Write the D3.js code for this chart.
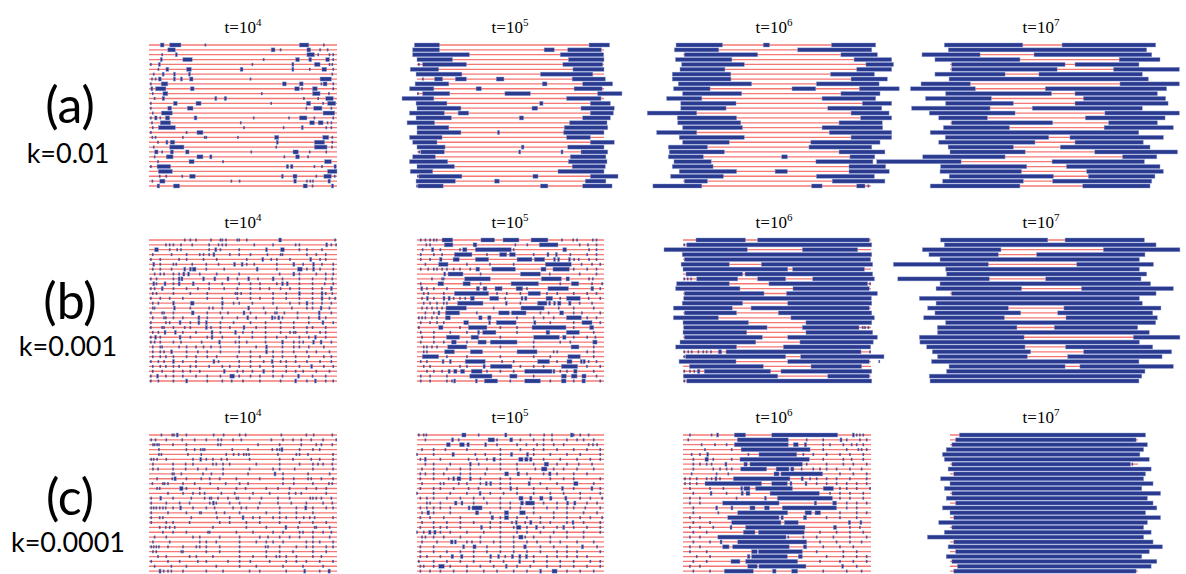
<!DOCTYPE html>
<html>
<head>
<meta charset="utf-8">
<script src="https://cdn.jsdelivr.net/npm/d3@7"></script>
<style>
  body { margin: 0; background: #fff; }
  svg { display: block; }
</style>
</head>
<body>
<div class="graph"></div>
<script>
'use strict'

// columns = time, rows = coupling k
const exponents = [4, 5, 6, 7]
const panelLabels = ['(a)', '(b)', '(c)']
const kLabels = ['k=0.01', 'k=0.001', 'k=0.0001']

// each string is one chain (one red line); "x0:x1" = blue domain, single number = tiny dot
// positions in % of the chain length
const a1 = [
  "6:8 11:17 30 80:85 93", "10:14 65:67 70 84:86 91 95", "7 14:15 84:88 90 96 98",
  "6:7 18:23 61 78:80 85:86.5 94:96 98", "1 5:6 55 76:77 88:91 96 97.5",
  "5 9:10.5 20:22.5 48.5:50 76:77 85.5 92:94.5 98", "2.5 7:8 13:14 21:22 97.5",
  "1.6 3.5 5:6.5 13:14 16.7:17.7 21.6:23.4 54 91:97", "1 6.5:10 71:73 80:82 91.7 92.6:94.7 98",
  "1:2 3.5:9 22:24 77.5:80 81.4 87:89.5 98", "2 7.4:10 60 87:91 95.7",
  "3 7:8.3 35:36 40:41.3 82.4 90 94:98", "1 13:15 25:27.7 65 83.7:86 92.6 95:99.3",
  "1 10:12 20.4:23.4 83.7 87.6:92 97", "2 6.6:12.4 92.6:98.8",
  "1 3:4.3 6 8.7:11 24:25.5 55.7 74.5 80:84 88 98", "1.6 6:11.5 48.8 85.5:88 90:92.6 95 97",
  "2 5:14 50.5 71.6 81:81.8 94.3 97", "1 20 25.5:28.7",
  "1.8 3.5 18 29.6 30.5 47.3 66.8:69 92.4:95.6 97.5", "4.8 9:9.8 11.3:13.7 67.7:68.6 88:93.4 97.5",
  "2.5 11:18.6 67.7 88:94.7 97.3", "3:4.8 7 11.3:13 19.5:21.3 54.4 76.6:79.4 85.5 94.3",
  "3 9.2:12.8 25.5:28.7 32.3:33.5 72 78:80 84.6", "4.8 21.3:24 39.4 93.4:97",
  "1 4.3:11.5 73:74.3 75.2:76.6 88 92 98.4:99.6", "5:12.4 95:100",
  "5.7 9.2 17.7 21.6:24.6 70.4:71.3 76.6:78.7 89 93:97 98.8",
  "1.8 5.7:8.5 43.8 48.2 77:78.4 84 85.8 87.2 95.2:96.5", "4.3:5.7 13:16.3 82:84.2 87 97:98.2"
]
const a2 = [
  "-1.4:12 92:103", "-2.3:12 68:73.4 80.6:98.6", "-2.3:28 76.6:99.8", "0:19 81:100",
  "1 3:26.4 78:99.3", "-3.6:11.6 83.4:100", "-0.5:24 66:94",
  "3.2 9.4:13.7 20.5:26.4 42.4:46.5 83:100.7", "-1:17 67:69.5 88.6:104.6", "-4:9 31.6:34.4 84:99",
  "0.5 3:17.5 47:60.6 96.6:109.6", "-8:9 80:98.4", "-0.5:16 65.6:67.4 92.7:103.4",
  "0:23.5 61.5:64.5 87.7:105.5", "-4:14.6 22:27.6 92.7:105", "-0.5:18.4 54.7:57 88.6:103.4",
  "-5.3:9.4 81.6:101.6", "0:17 78.8:102", "0:23.5 43:44.2 78.4:100", "-4:13.4 80:92.7",
  "-2.3:10.7 92.7:105.5", "0:15 55.8:57.2 80.6:100", "1.2 2:14.6 54.4:55.4 77:78 87.7:102",
  "-2.3:9.8 82:101", "-4:16.4 81:101.6", "0:20 83:100.7", "-3.6:8.4 75.4:100",
  "0.5 1:24 62:64.7 92.7:107.5", "-0.5:20.5 41.5:44 90:101", "0 0.5:14 66:70 88.6:104.3"
]
const a3 = [
  "-3.7:21 42.7:46 79:102.5", "-4.6:19 61:100.4", "0.7:39.7 84:103.4", "-4:26 91:111",
  "-0.7:32.6 97.3:112", "-1.6:22.3 92.4:111", "-5.7:25.4 78.5:101.8", "-5.7:25.5 89.4:108.7",
  "-2.5:36.5 71:104.3", "-5:14.4 58:70.6 93.8:115", "-0.2:31.2 84:104.8", "-8.7:10 74:102.5",
  "-1.2:28.2 95.4:111", "-1.2:22.9 77:105.7", "-19:7.3 89.4:109.6", "-3:28.5 94.5:111",
  "-2.8:30.7 83:106", "-0.2:31.6 74:106.2", "-14:7.3 77.8:111", "-2:32.6 89.4:111",
  "-0.2:24.6 68:104.8", "-7.8:13 67:100.4", "-7.3:22 83:107.4", "-7.8:10.8 52.5:55.5 88.8:102",
  "-4.8:15 70.7:101", "-5.7:16 88.3:107.8", "-2:28.5 49:55.5 88.3:109.7", "-6.6:21.5 71:101.8",
  "0.7:13 79.4:107.4", "-16:10 68.4:74 92.4:96.8 98.6"
]
const a4 = [
  "-3:38.7 59.6:109.4", "-0.9:104.6", "-14.9:16 44.7:107.3", "-8:37.2 90:111.7",
  "0.9:61.2 66.5:100.5", "0.9:57 87:122", "-8:29.3 47.3:102.3", "-0.5:105.5",
  "-15.4:10.8 90.4:122", "-21:13.5 50.7:115.2", "-2.3:54 66.5:110.3", "-13:22 71:114.7",
  "-2.3:33.7 66.5:116", "-20.4:21.3 43.8:102.3", "-11:34.6 82.4:122", "-6:19.9 72:114.4",
  "0.9:54.6 84.4:110.3", "-3.5:31.6 82:118.8", "-10.5:100.4", "-2.5:52.5 63.8:113.5",
  "-6:45.2 66.5:102.8", "-1:33.7 58.7:106.4", "0:40 77:121", "-14.5:29.3 91.8:110",
  "-39:5.9 54.3:103.4", "-5:40.8 62:111.7", "-5.3:38 72.7:113.5", "-0.4:55 73.6:109",
  "-3.9:39 54.6:107.3", "-10.5:37.2 70.6:106.4"
]
const b1 = [
  "19 22 25 33 38 39 41 47 48 52 69:70.5 99",
  "9 11 13 17 23 32 37 39 41 56 66 78 80 94:95 97 99.5",
  "3:5 11 15 17 32 35:36 38 48 62:63 70:72 80 84 92",
  "2 12 20 27 29 32 34:35 43 48 54 63 70 71 84 89 94",
  "1 6 16 20 29 36 52 60:61 65 68 75 85.5:86.5 91 94",
  "2:3 6 13 14.5 23 30.5 37 45:46 49:50 52 56 68 76.5:77.5 82 87:88 92 98",
  "2 6 12 18.5:19.5 21.5:22.5 23:25 30.5 40 57:58 68 79:81.5 84 87:88 91 98",
  "3 6 8 13 16 18:19 20.5:21.5 27 36 48 69.5 76.5:77.5 80 89 94 98",
  "1 4 13 15.5:16.5 17:18 28.5:29.5 34.5:35.5 41.5:42.5 47 52.5:53.5 58 65.5:66.5 71 80 87 94 97.5",
  "2:2.5 4 8:9 13 15.5:16.5 23:24 32 39 48 54 59 68 70.5:71.5 73:74 80 87 93.5 98",
  "1 3 6.5:7.5 13 20 26 32 40 47 54 59 64 70 75 80 87 92 96.5:97.5",
  "2 4 13 22 31 46 47 49 54 66 73 79.5:80.5 87 91.5:92.5 94 97.5",
  "1 6 11 18 31 39 47 54 59 66 73 80 87 91.5:92.5 96 99",
  "2 5 12.5:13.5 22:24 38.5:39.5 45 48 55 66 75 80 83.5:84.5 87 92 97",
  "2 3 13:14 22 32 34 39 52.5:53.5 61 68 76 84 87 91:92 96",
  "1 7 8 13 22.5:24 31 38 42 50:51 54 62 67 68 72 79 90:91 97",
  "2 8 9 13 18 26:27 31 39 47 52:53 57 65:66 67 68.5:69.5 71 79 85 90:91 94",
  "1 9 11 16:17 22 26:27 30:31 38 45 54 62 70 77 85 92:93 98",
  "1 7 8 13 19 22 30:31 33 38 43 50:51 57 62 70 77 84 87 94",
  "2 5 8:9 13.5:14.5 18 25 33:34 38 45.5:46.5 50 55 62 70 75 77 78 84 91 94",
  "1 3:4 6 16:17 22 31 33:34 39 48 55 62 68 73 80 85 88:89 94",
  "1 3 6 13 17 28 37:38 46 48 52 62 70.5:71.5 77 80 82 87:88 91:92 97",
  "2 6 7 16 20 25 29 33 38 48 57 62:63 71 77 80 85 93",
  "2 6 8 11.5:12.5 20 26 31 38 48 54 62:63 66 71 77 84 89 96",
  "2 6 9 13 20 25 31 36 47 54 59 66 71 78 85 93 97",
  "1 5 8 12.5:13.5 18 25 34:35 37 48 54 61 65:66 70 73 78 84 91 97",
  "2 6 9 13 16 22 25 32 39 43 48 54 59 66 73 80 86:87 93 98",
  "2 7 13 18 22 27 39.5:40.5 47 50 55 60.5:61.5 66 73 78 82 89 96",
  "1 4:5 9 13 18 25 31 38 43:45.5 48 54 59 66 71 79:80 87 94",
  "1 5 13 19.5:20.5 31 39 44 50 59 70 77.5:78.5 84 88:89 94 98"
]
const b2 = [
  "2 4.5 7 9 10.5 13.4:19.1 34.2:41.5 46:54.5 61:70 77.5 83.5 85.6 94 96",
  "5 7 14.6:19.2 30:32 52.6 59 65.4:75.4 87 91.4 96",
  "3 7.7:9 12.5 23 24.4:26.7 31.2:50.4 51.7 78:80 92 96",
  "2 9 13.4 20:29.4 37.4 44.2:48 49.4:52.6 62.4 69.5:70.4 74:75 82 91 96",
  "2 7 12:13.4 19.3:22.6 31.2:38.3 53.5:61.5 62.7:68.3 73:74 75.2:76 81:82 84 86.5 92 96",
  "4.5 11.6:16.6 26.7 39 51.7 68.6:82.5 88 93.6 98",
  "2 6 9 10.7 13.4 16 19.6 23 28.5 31.5:33.5 40:52.6 66.3:69 72.7:81.5 83.8 91 96",
  "14.3:15.2 16.6:24.6 34 55.3:66 71 87 96",
  "8 13.4 14.3 25.5:39.2 66.5:77.2 79.7:81.5 92 94",
  "2 11.2:14.3 24.6:28.5 34 50.3:65 76.6 82.5:86.5 93.6 99",
  "2:3 5.3 9 16 31.7:33.5 35.3:37.4 41.7:45.5 53:56.5 58.8 70:81 93:94.5 98",
  "3.6 6 14.3 20:38.3 42.8 48 55.3 59.4:66 69.5 75 83.8 91 96",
  "2.7 5:5.9 9 13.9:14.6 16.6:17.8 19.6 23 25.8 28.5:30.7 38.9:43.7 47.2 55.6:56.7 57.5:58.8 69:72.5 76.6 79.9:87.3 91.8 98",
  "3.6 7 10.7 14.3 16 21.7:35.3 47.2:48 55.3 64.5:69.5 70.4:71.3 73:74 75.2:77 81:82.4 87 93.6",
  "2.7 5.3 8 10.7 13.4 15.5:26.4 41 55.6:68 75.8 83.8 94.5",
  "4.5 9 11.2:12.1 15.2:22.8 32 43.7:49.4 50.5:58.3 66 70.4 76.3:78.4 83.8 88.2 98",
  "1 2.7 4.5 8 10.7 15.2:17.8 33:34.8 37.8:39.6 53.5 62.4 67.7 73.1 79.9:87.9 91 96",
  "2 7 10.7 14.3 25:27.6 38.3:39.2 42.4:53 62.4:63.6 71.3 83.8 88.2:93.6 98",
  "1 11.6:13.9 23 27.5:37.4 44.6 53.5 61.5:79.7 83.8 92.3:94.5",
  "2 9 17.8 26.7 32.4:33.5 35.1:42.2 53.5 69:71 79.9:86.8 94.5",
  "2.7 9 15.7:22.8 28.9:33 44.6 62.4:76.1 77.9:79.7 83.8 91 95.4",
  "2 9 14.3 18.4:21 26.7 32.6:37 39.2:53.5 62.4 76.6 82 94:96.3",
  "3.6 5.3 8 10.7 16.4:26.7 44.6 62.4 82.4:86.6 94.5",
  "3.6 5.3 14.8:20 28.5:35.1 53.5:64.2 73.1 75 91 94.5",
  "2.8:11.6 16 26.7 44.6 62.4 71.3 80.7:87.3 94.5",
  "2 5.3 13.4:14.3 17.3:18.2 25.8:36.5 45.5 51.7 64.5:70.9 74.9 80.2:82.9 87.3:88.2 88.8:90 91.8 96",
  "3.6 7 23 26.7 35.3:36.5 39.2:50.8 55.3 62.4 67.7 77.2:85.9 90.9 98",
  "5.3 9 13.4 16.6:17.8 19.6:21.4 23.2:25.5 29:34.8 37.4 44.6 51.7 57.6:72.2 72.7:73.4 76.6 80.2 83.8:85.6 94.5",
  "2 7 16 28.2:40.1 49.6:53.5 62.4 77.2:79.9 82.5:85.6 88.2:90.4 96",
  "2 7 16 18.7 19.6:20.5 31.2:32 36:43.1 49.9 57.6:66 71.3 77.2:79.7 83.8 88.2:90 98"
]
const b3 = [
  "6.9:33.2 39.7:99.1", "0.7 2:100.4", "-10.1:34.2 63.5:92.9", "-0.4:100.4", "0.7:99.8",
  "-1:24.6 41.7:100.9", "0:55.7 58.3:96.5", "1.6:31.7 33:100.9",
  "0.7 2.5 4.3 7.3:29.1 39.7:54.6 69:101.8", "-3.4:24.6 45.7:98.2 99.5", "-3.9:30.3 58.5:99.1",
  "0.7:43.1 55.1:103.4", "0.4:100.2", "-0.4:31.7 55.7:100.4", "-5.1:26.2 36.2:99.1",
  "0.7:28.5 50.7:100.4", "-5.1:18.8 57.4:101.8", "0:34.8 65.4:100.4",
  "0.4:44.7 63.5:93.6 95.6 96.8 98.6", "0:33.9 65.4:100.9", "0.7:42.2 55.7:103.4",
  "-1.6:38.7 62.2:101.2", "-3.9:28.5 53.4:99.8",
  "0.7 2.8 4.6 8.2 10.8 12.6 14.9 18.8:20.6 22.9:94.7 99.5", "0.7 1.4:54.6 62.6:106.9",
  "-2.1:28.2 55.7:99.1 104.4", "3.4:42.7 68.1:95", "0.7 3.7 6 7.6:9 11.3:46.6 52.1:100.4",
  "0.2:50.4 77:99.1", "0.7 2:100.4"
]
const b4 = [
  "-5:52 61.2:103.4", "-3:109.6", "-14.7:27.1 81.6:122.3", "-11.2:25.7 46.1:103.7", "-5.3:100.7",
  "-30.1:20.4 67.4:108.2", "-2.3:100.7", "-1.8:104.6", "-27.8:20.9 50.9:101.6", "-5.3:106.7",
  "-7.4:38.1 70:118.8", "0.9:109.6", "-16.3:100.7", "-7.4:102.3", "-11.9:31 60.6:112.2",
  "-8:37.6 57.3:107.8", "-14:28.9 61.7:110.3", "-2.3:109.4", "-6.7:35.6 55.5:99.8", "-6.6:106",
  "-16.3:39.4 97.5:122.3", "-16:100.7", "-12.4:39.9 61.5:107.8", "-9.4:42.9 71.1:117.9",
  "-6.6:41.1 62.6:112.8", "-9.8:100.5", "-0.5:61.2 69.1:118.8", "-1.8:103.7", "-11:102",
  "-10.6:100.5"
]
const c1 = [
  "6.6 12.4 13.3 14.5:15.4 19.9 34.4 39.7 48.2 51.4 70.4 83.7 87.6 97.5",
  "1.2 3.5 9.2 17.7 24.3 30.5 36.7 38.5 44.7 49.1 65.1 71.3 76.6 81 86.3 92.6 99.6",
  "2.1 3 4.3 5.3 12.8 19.9 36.7 38.1 58 69.5 81 89 91.7 97.5",
  "5.3 19.9 24.3 27.5 28.7 29.6 44.3 52.7 65.6 68.1 69.5 70.2:70.9 80.1 87.2 90.8",
  "5.3 6.6 20.7 27.8 41.1 45 47.7 50.4 51.8 53.2 68.6 78.4 80.1 84.6 97.9",
  "1.2 2.5 4.3 9.2 23.4 27:28 30.5 34 38.5 41.5 53.5 69.5 76.6 86.3 90.8 97.9",
  "2.1 12.8 19.5 23.4 34 35.8 39.4 42.9 57.1 69.5 80.1 87.2 89.9 92.6 97.5",
  "2.1 4.8 12.8 19.5 26 30.5 39.4 53.5 66 69.5 77.5 87.2 97.9",
  "12.4 13.3 17.2 28.7 33.2 39.4 52.7 66.5:67.4 71.3 84.6 96.1",
  "4.3 12.4 13.3:14.5 19.9 27.8 32.3 37.6 46.5 58.9 71.3 77 84.6 86.3 91.7 97.9",
  "1.8 7.4 8.3 10.1 18.1 24.3 32.6 40.8 48.2 52.7 71.3 77 87.2 95.7 97.5",
  "4.3 5.7 16.3:18.1 19.9 27 36.7 46.5 51.4 62.4 68.6 74.8 83.7 89 94.3",
  "10.1 18.1 23.4 27 29.6 38.5 45.6 55.3 64.2 74.5 78 81 94.3",
  "1.2 5.7:6.7 12.8 22.5 29.6 32.3 33.2 36.7 42 46.5 47.5 53.5 59.8 68.6 74.8 85.8 87.2 89 91.7 97",
  "1.2 9.2 16.3 21.6 32.3 33.7:34.4 35.8 42.9 48.2 58.9 68.6 75.7 83.7 92.6 97.5",
  "1.2 2.5 3.9 5.7 7.4 8.9 12.8 16.3:17.2 23.4 30.5 34.9 44.7 49.1 51.8 58 69.5 78.4 82.8:84 87.2 94.3 97.9",
  "1.2 10.1 19.9 27 27.8 35.8 40.2 48.2 62.4 69.5 78.4 87.2",
  "1.2 5.7 7.4 22.5 36.2 42.9 49.5:50.5 55.3 58.9 66 69.5 73 78.4 82.3 85.5 88.1 97.9",
  "1.2 9.2 12.8 21.6 37.6 42.9 51.8 58.9 69.5 80.1 87.2 94.3",
  "5.7 8.9 11 13.7 34 51.8 62.4 72.3:73.2 79.3 88.1 89 96.1",
  "7.4 12.8 19.9 31.4 32.3 46.5 55.3 66 71.3 80.1 81.9 87.2 92.6 97",
  "3 9.2 23.4 27 37.6 48.2 58.9 63.3 69.5 74.8 80.1 87.2 96.1",
  "2.1 11 27 30.5 35.8 48.2 57.1 62.4 66 71.3 83.7 87.2 90.8 97.9",
  "1.2 2.5 3.9 5.3 10.1 18.1 25.2 27 30.5 37.6 48.2 62 63.3 69.5 78.4 83.7 87.2 94.3 97.9",
  "2.1 3.9 17.2 18.1 30.5 37.6 48.2 62.4 69.5 76.6 87.2 94.3",
  "4.8 9.2 21.6 25.2 34 48.2 55.3 62.4 67.7 69.5 73 78.4 87.2 91.7",
  "1.2 10.1 16.3 26 30.5 42 48.2 53.9 64.2 73 78.4 83.7 90.8 97.9",
  "3 11.9 19.9 35.8 48.2 57.1 71.3 81.9 92.6",
  "5.3:6.4 7.8 10.1 11.9 18.1 30.5 39.4 53.5 58.9 73 82.3:83 90.8 95.2:96.5"
]
const c2 = [
  "1 3.6 5 24:26.2 33 46.9:48.1 60.6 68 72.2 82:83.4 83.8 87.3 91.8",
  "4.5 18.4:19.6 22.3 38:41.5 42.8 49.6:51.2 55.3 62.4 67.7 72.2 80.2 85.6 89.1 94.5",
  "15.7:17.8 22.8:25.3 26.7:28 36.2:37.1 42.8 53.5 58.5 64.2 67.7 73.1 78.4 91.8 94.1 96.3",
  "2.7 8.9 15.2 26.7 44.6 55.3 62.4 67.7 74.9 83.8 90.9 98",
  "0 8.9 18.7:20 31.2 36.5 44.6 49.9:51.2 58.5:59.7 62.4 71.3 80.2 87.3 98",
  "1.8 3.9:5 12.5 27.6 32.1 37.4 40.6:41.9 44.6 54.4:56.7 57.6:59.4 60.2:61.5 67.7 76.6 85.6 92.7 98",
  "4.5 8.9 17.8 28:29 33 44.6 53.5 62.4 68:70.4 74.9 80.2 86.5 93.6",
  "2.7 8.9 16 23.2 28.5 37.4 44.6 53.5 63.3 66.5:69.5 73.1 78.4 85.6 94.5",
  "1.8 4.5 8.9 14.3 23.2 28.5 36.5 46.9:49 53.5:54.9 58.8 67.7 70.4:71.7 74.9 83.8 90.9",
  "1.8 8.9 16.9 19.1:20 21.4:23.5 28:29 33.9 44.6 49.9 60.6 71.3 78.4 83.8 98",
  "2.7 12.5 14.3 22.3 26.7 33.9 36.5:37.1 38.9:39.7 44.6 49.9 59.4:60.6 66 74.9 83.8:86.1 94.5",
  "1.8 8.9 12.5 19.6 27.6 32.9 44.6 49.6:50.4 53.5 62.4 69.5 77.2:78.4 83.8 93:94.1 98",
  "0 8.9 17.8 26.7 33.2:34.2 39.2 46.3 53.5 62.4 71.3 78.4 87.3 98",
  "1.8 5.3 8.9 16 23.2 30.3 35.7 44.6 54.5:56.7 60.2:61.5 65.6:67.4 70.9:72.2 79:80.2 87.3 92.7 99",
  "5.3 7 12.5 20:21.4 23.5:24.6 30.3 37.4 44.6 49.9 55.3:57 58:62.9 67.7 74.9 79.9:81.1 83.8:85 90.9 96.3",
  "1.8 5.3 8.9 12.5 17.8 27.3:28.2 29.4:34.8 44.6 49.9 55.3 62.4 69.5 74.9 80.2 83.8 90 98",
  "2.7 5.3:6.8 8.9 17.8 31.2:33 39.2 46.7:49 54.9:57.9 62.4 73.1 80.2 89.1 96.3",
  "1.8 7 14.3 23.2 39.6:41 44.6 46.7:49 53.5 58.8 66 73.1 80.2 87.3 92.7 99",
  "2.7 8.9 16 23.2 30.3 39.2 44.6 50.8 52.6:53.5 57.9 60.2:61.5 66 71.3 80.2 82.9:83.8 89.1 98",
  "1.8 8.9 12.5 16 23.2 33.9:35.1 39.2 44.6 51.7 53.1:55.6 58.8 63.3:64.5 67.7 74.9 77.9:79 83.8 90.9 98",
  "0 3.6 6.2:7.5 8.9:10.2 12.5 17.8 26.7 35.7 44.6 53.5 58.8 66 73.1 80.2 89.1 98",
  "2.7 4.5 8.9 14.3 23.2 33.9 44.6 51.7 54.4:56.7 57.9 62.4 71.3 80.2 89.1",
  "2.7 10.7 17.8:19.3 20:21 26.7 29.4 33.9 41 44.6 51.7 58.8 64.2 71.3 76.6 85.6 94.5",
  "1.8 8.9 24.4:25.5 29.9:31.6 37.4 44.6 51.7 57:58.5 66 73.1 80.2 87.9:89.1 96.3",
  "1.8 8.9 16 23.2 30.3 37.4 44.6 51.7 58.8 66 74.9 80.2 85.6 98",
  "1.8 5.3 12.5 18.2:19.6 23.2:24.6 30.3 38.9:39.7 43.1:44.2 47.2 50.4:51.7 54.4:55.6 57.9:59.2 62.4 69.5 74.9 80.2 85.6 90.9",
  "1 8.9 16 23.2 30.3 39.2 46.3 54.4:55.3 62.4 69.5 76.6 83.8 92.7 98",
  "1.8 3.6 8.9 11.6:14.6 17.8 26.7 33.9 41 47.2:48.1 53.5 60.6 69.5 76.6 83.8 90.9 98",
  "1.8 7 12.5 19.6 26.7 35.7 42.8 51.7 58.8 65.6:66.5 72.2:74.9 80.2 87.3 94.5"
]
const c3 = [
  "3.7 15.2 17.9:18.8 27.3:33.3 47.2:82.3 90.1:90.6 92.4 94.1 95.9",
  "2.8 28.9:56 65.8 74.6 83.5:84.5 87.1 94.1 97.7",
  "9.9 17 23.2 27.3:56 58.7:61.3 64.5:65.8 74.6 78.2 85.3 89.7 92.4 95.9",
  "11.7 25.9 30.9:67.6 74.6 87.1 93.3 95 97.7",
  "4.6 9 12.6:13.5 34.8 40.4:60.5 64 69.3 76.4 83.5 88.8 95.9",
  "5.5 11.7:13.5 16.1 25.9 30.3:67.2 74.6 85.3 89.7 95.9",
  "5.5 9 12.6 15.2 22.3:23.2 32.4:34.2 35.6:63.5 65.8 76.4 85.3 90.6 97.7",
  "5.5 16.1 19.7 23.2 25.9 30.7:44.5 49.5:56.4 57.3:59 63.1 69.3 72.9 76.4 81.7 88.8 95",
  "4.6 17.9 24.1 48.4:51.1 52.1:74.3 83.5 90.6 97.7",
  "1.1 3.7 7.3 12.6 15.2 17:17.6 19.7 26.8:56.9 62.8:64 67.6 71.1 76.4 81.7 88.8 97.7",
  "1.1 3.7 7.3 11.7:41.8 47.2:55.5 56.9:57.8 64.9:65.8 71.1 76.4 81.7 87.1 92.4 97.7",
  "3.7 14.4 21.5 30.7:31.6 32.4:35.6 38.6:58.2 74.6:80 83.5 87.1 92.4 99.5",
  "5.5 14.4:15.2 23.2 30.9:32.1 33.5:35.6 46.3:72.5 78.2 83.5 88.8 95.9",
  "3.7 9 28.5 43.3:44.2 50.2:79.5 83.5 88.8 95.9",
  "3.7 9 21.1:51.1 69.8:71.1 79.6:81.7 87.1 92.4 97.7",
  "5.5 17.4:17.9 25.5:26 35.6:38.3 43.3:45.9 52.8:81.7 87.1 92.4",
  "5.5 18.8 29.1:55.7 64.9:68.4 70.2:73.2 83.5 92.4 97.7",
  "3.7 9 23.8:51.1 52.1:53.4 64:65.8 76.4 83.5 92.4",
  "5.5 14.4 25.9:52.1 53.9:61.3 87.9:89.2 94.1:95",
  "3.7 9 16.1 25:25.9 33.3:64.9 80:81.7 88.8 94.1",
  "5.5 12.6 32.1:38.3 40.1:64.5 72.9 81.7 88.8 95.9",
  "3.7 9 18.5:54.8 56 64 71.1 80 88.8 97.7",
  "5.5 14.4 19.7:20.6 29.1:65.8 72.9 81.7 88.8 95",
  "3.7 9 21.1:24.5 26.4:56.5 64:65.8 74.6 83.5 90.6",
  "3.7 12.6 36.5:39.5 40.1:63.5 71.1 85.3 92.4",
  "7.3 14.4 34.2:35.6 36.5:55.5 61.3:63.5 76.4 85.3 92.4 97.7",
  "5.5 12.6 25.5:30.3 33.3:61 72.9 83.5 90.6 97.7",
  "3.7 9 34.4:39.5 40.4:65.4 84.4:85.3 92.4",
  "5.5 14.4 22:37.4 47.6:49.5 57.8:61 74.6 87.1 95"
]
const c4 = [
  "5:104", "3:99", "1:105", "-2:103", "-4:101", "-3:106", "1:96 97", "-1:107", "2:104",
  "-5:103", "0:108", "-3:102", "1:112", "-2:105", "3:108", "-4:110", "0:104", "2:112",
  "-6:105", "1:103", "-3:107", "-12:103", "2:108", "-1:113", "3:106", "-2:102", "1:110",
  "4:107", "2:99"
]

const panels = [[a1, a2, a3, a4], [b1, b2, b3, b4], [c1, c2, c3, c4]]

const width = 1186, height = 574
const nRows = 30
const rowStep = 4.862
const colRange = [[149, 337], [417, 604], [683, 871], [950, 1138]]
const titleX = [243, 510, 774, 1041]
const rowTop = [45, 240, 435]
const labelBase = [[123, 163], [319, 356], [515, 552]]

const blue = '#2a3b8f'
const red = '#f25f5c'

function parseRow(str) {
  return str.trim().split(/\s+/).map(tok => {
    const p = tok.split(':').map(Number)
    return p.length === 2 ? { x0: p[0], x1: p[1], dot: false } : { x0: p[0], x1: p[0], dot: true }
  })
}

const svg = d3.select('.graph').append('svg')
  .attr('width', width)
  .attr('height', height)

panels.forEach((rowPanels, r) => {
  const y = d3.scaleLinear()
    .domain([0, nRows - 1])
    .range([rowTop[r], rowTop[r] + rowStep * (nRows - 1)])

  // row labels
  svg.append('text')
    .attr('x', 70).attr('y', labelBase[r][0])
    .attr('text-anchor', 'middle')
    .style('font-family', 'Lato, "Open Sans", sans-serif')
    .style('font-size', '50px')
    .text(panelLabels[r])
  svg.append('text')
    .attr('x', 68).attr('y', labelBase[r][1])
    .attr('text-anchor', 'middle')
    .style('font-family', 'Lato, "Open Sans", sans-serif')
    .style('font-size', '27px')
    .text(kLabels[r])

  rowPanels.forEach((rows, c) => {
    const x = d3.scaleLinear().domain([0, 100]).range(colRange[c])
    const g = svg.append('g')

    // title t=10^n
    const t = g.append('text')
      .attr('x', titleX[c]).attr('y', rowTop[r] - 12)
      .attr('text-anchor', 'middle')
      .style('font-family', '"Liberation Serif", "DejaVu Serif", serif')
      .style('font-size', '17px')
    t.append('tspan').text('t=10')
    t.append('tspan').attr('dy', -7).style('font-size', '11px').text(exponents[c])

    // chains
    g.selectAll('line.chain')
      .data(d3.range(nRows))
      .join('line')
      .attr('class', 'chain')
      .attr('x1', x(0)).attr('x2', x(100))
      .attr('y1', d => y(d)).attr('y2', d => y(d))
      .attr('stroke', red)
      .attr('stroke-width', 1.3)
      .attr('stroke-opacity', 0.85)

    const segs = rows.flatMap((s, i) => parseRow(s).map(d => ({ ...d, row: i })))

    g.selectAll('rect.seg')
      .data(segs)
      .join('rect')
      .attr('class', 'seg')
      .attr('x', d => d.dot ? x(d.x0) - 0.8 : x(d.x0))
      .attr('width', d => d.dot ? 1.6 : Math.max(x(d.x1) - x(d.x0), 2))
      .attr('y', d => y(d.row) - (d.dot ? 1.5 : 2))
      .attr('height', d => d.dot ? 3 : 4)
      .attr('fill', blue)
      .attr('fill-opacity', d => d.dot ? 0.8 : 1)
      .attr('stroke', d => d.dot ? 'none' : '#8c9ad6')
      .attr('stroke-width', 0.6)
      .attr('stroke-opacity', 0.7)
  })
})
</script>
</body>
</html>
